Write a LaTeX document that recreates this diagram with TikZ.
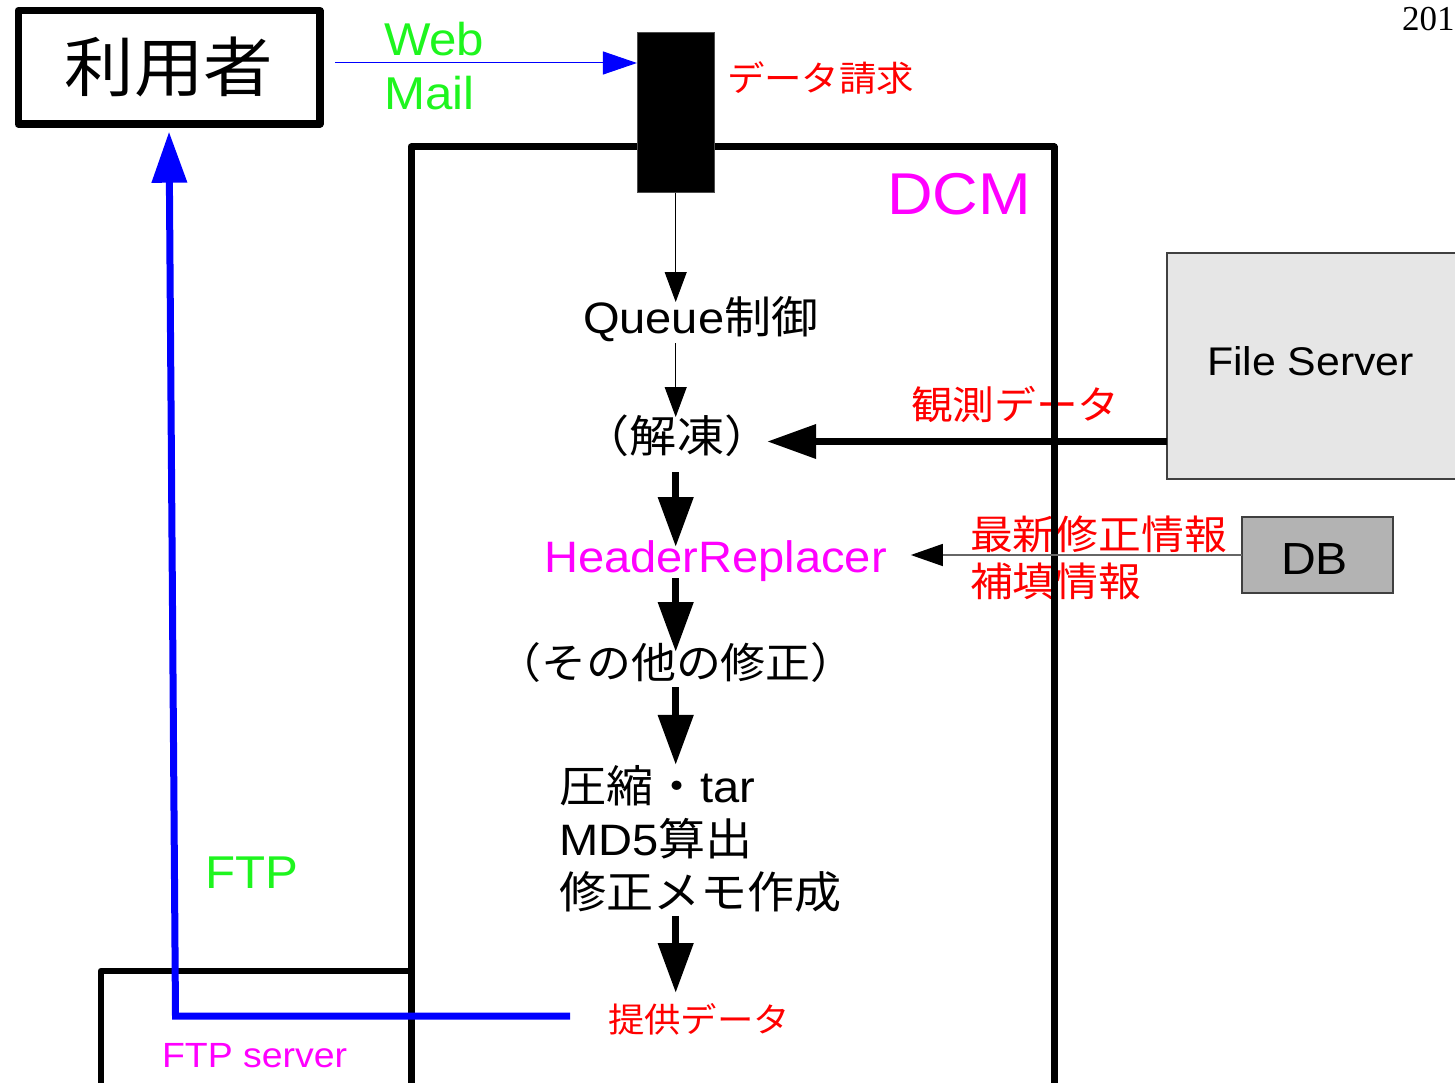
\documentclass[tikz,border=0pt]{standalone}
\usepackage{fontspec}
\setmainfont{Liberation Sans}[FakeStretch=1.07]
\newfontfamily\jp{Noto Sans CJK JP}[FakeStretch=1.07]
\newfontfamily\yearfont{Liberation Serif}
\usetikzlibrary{arrows.meta}
\definecolor{mygreen}{RGB}{30,245,30}
\definecolor{mymag}{RGB}{255,0,255}
\definecolor{myred}{RGB}{255,0,0}
\definecolor{myblue}{RGB}{0,0,255}
\definecolor{fsgray}{RGB}{230,230,230}
\definecolor{dbgray}{RGB}{179,179,179}
\newcommand\setfs[2]{\fontsize{#1}{#2}\selectfont}
\begin{document}
\begin{tikzpicture}[x=1pt,y=-1pt,
  txt/.style={inner sep=0pt, outer sep=0pt},
  thinarr/.style={line width=1pt, -{Triangle[length=30pt,width=22pt]}},
  fatarr/.style={line width=7.5pt, -{Triangle[length=50pt,width=34pt]}},
  frame/.style={line width=7pt, line join=round},
  srvbox/.style={draw=black!75, line width=1.2pt, inner sep=0pt, outer sep=0pt},
]
\useasboundingbox (0,0) rectangle (1455,1083);
\clip (0,0) rectangle (1455,1083);

% red labels that the DCM frame crosses
\node[txt, anchor=base west, text=myred, font=\jp\setfs{39}{45}] (obs) at (911,419) {観測データ};
\node[txt, anchor=base west, text=myred, font=\jp\setfs{40}{47}, align=left] (fix) at (970,596) {最新修正情報\\補填情報};

% DCM frame and FTP server frame
\draw[frame] (411,1100) -- (411,147) -- (1054,147) -- (1054,1100);
\draw[frame, line width=6.6pt] (101,1100) -- (101,971) -- (411,971);
\node[txt, anchor=base east, text=mymag, font=\setfs{59}{70}] (dcm) at (1031,215) {DCM};
\node[txt, anchor=base west, text=mymag, font=\setfs{35}{40}] (ftpsrv) at (162,1067) {FTP server};

% user box
\node[draw, line width=7.3pt, line join=round, minimum width=301.7pt, minimum height=113.5pt,
      inner sep=0pt, font=\jp\setfs{65}{70}] (user) at (169,67.3) {利用者};

% request block
\node[fill=black, draw=black!70, line width=0.8pt, minimum width=77.5pt, minimum height=160pt,
      inner sep=0pt, outer sep=0pt] (req) at (675.7,112.7) {};
\node[txt, anchor=base west, text=myred, font=\jp\setfs{35}{40}] (reqlbl) at (727,91.5) {データ請求};
\node[txt, anchor=base west, text=mygreen, font=\setfs{46}{54}, align=left] (web) at (384,110) {Web\\Mail};
\coordinate (webstart) at (335,63);
\draw[myblue, line width=1pt, -{Triangle[length=34pt,width=23pt]}] (webstart) -- (webstart -| req.west);

% processing column
\node[txt, anchor=base west, font=\setfs{44}{50}, text height=31pt, text depth=10pt] (queue) at (583,333) {Queue{\jp 制御}};
\node[txt, anchor=base, font=\jp\setfs{44}{50}, text height=35pt, text depth=20pt] (thaw) at (677,452) {（解凍）};
\node[txt, anchor=base west, text=mymag, font=\setfs{44}{50}, text height=25pt, text depth=6pt] (hr) at (544,572) {HeaderReplacer};
\node[txt, anchor=base, font=\jp\setfs{42}{50}, text height=26pt, text depth=9pt] (other) at (676,678) {（その他の修正）};
\node[txt, anchor=base west, font=\setfs{44}{53}, align=left] (comp) at (559,908) {{\jp 圧縮・}tar\\MD5{\jp 算出}\\{\jp 修正メモ作成}};
\node[txt, anchor=base west, text=myred, font=\jp\setfs{34}{40}, text height=39pt] (prov) at (608,1032) {提供データ};

\draw[thinarr] (req.south) -- (req.south |- queue.north);
\draw[thinarr] (req.south |- queue.south) -- (req.south |- thaw.north);
\draw[fatarr] (req.south |- thaw.south) -- (req.south |- hr.north);
\draw[fatarr] (req.south |- hr.south) -- (req.south |- other.north);
\draw[fatarr] (req.south |- other.south) -- (req.south |- comp.north);
\draw[fatarr, shorten <=4pt] (req.south |- comp.south) -- (req.south |- prov.north);

% file server and DB
\node[srvbox, fill=fsgray, minimum width=300pt, minimum height=226pt] (fs) at (1317,366) {};
\node[txt, anchor=base west, font=\setfs{40}{46}] (fslbl) at (1207,375) {File Server};
\node[srvbox, fill=dbgray, minimum width=151pt, minimum height=76pt] (db) at (1317.5,555) {};
\node[txt, anchor=base west, font=\setfs{45}{50}] (dblbl) at (1281,574) {DB};

\draw[line width=7pt, -{Triangle[length=49pt,width=33pt]}, shorten >=-4pt] ([yshift=-75.5pt]fs.west) -- ([yshift=-75.5pt]fs.west -| thaw.east);
\draw[black!60, line width=1.5pt, -{Triangle[length=32pt,width=22pt,color=black]}, shorten >=24pt] (db.west) -- (db.west -| hr.east);

% FTP return path
\node[txt, anchor=base west, text=mygreen, font=\setfs{46}{52}] (ftp) at (205,888) {FTP};
\coordinate (bend) at (175.5,1016);
\draw[myblue, line width=7pt, line join=miter, -{Triangle[length=51pt,width=34pt]}, shorten <=38pt, shorten >=4pt]
  (bend -| prov.west) -- (bend) -- (user.south);

% year
\node[txt, anchor=base west, font=\yearfont\setfs{35}{40}] (year) at (1402,31) {201};
\end{tikzpicture}
\end{document}
